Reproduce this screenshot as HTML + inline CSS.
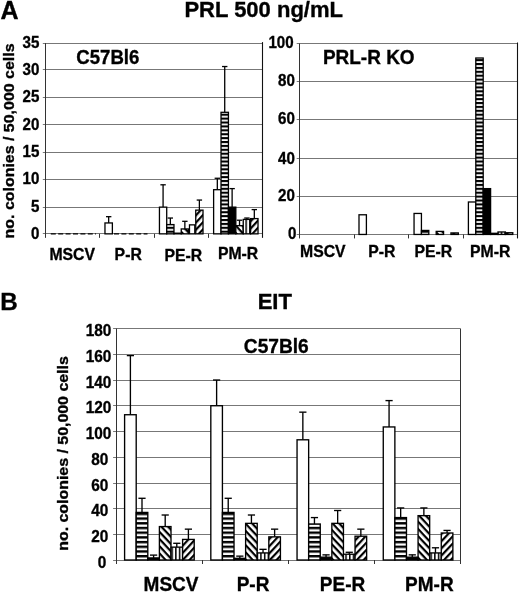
<!DOCTYPE html>
<html><head><meta charset="utf-8"><title>Figure</title>
<style>
html,body{margin:0;padding:0;background:#fff;}
body{width:520px;height:593px;overflow:hidden;}
svg{display:block;filter:grayscale(1);}
text{font-family:"Liberation Sans",sans-serif;font-weight:bold;fill:#000;stroke:#000;stroke-width:0.35px;}
</style></head><body>
<svg width="520" height="593" viewBox="0 0 520 593">
<defs>
<pattern id="hzA" patternUnits="userSpaceOnUse" width="4" height="3.9" y="0.6"><rect width="4" height="3.9" fill="#fff"/><rect width="4" height="2.1" fill="#000"/></pattern>
<pattern id="hzB" patternUnits="userSpaceOnUse" width="4" height="4.7" y="0.4"><rect width="4" height="4.7" fill="#fff"/><rect width="4" height="2.4" fill="#000"/></pattern>
<pattern id="vtA" patternUnits="userSpaceOnUse" width="3.7" height="4" x="1.2"><rect width="3.7" height="4" fill="#fff"/><rect width="1.5" height="4" fill="#000"/></pattern>
<pattern id="d1" patternUnits="userSpaceOnUse" width="5" height="4.9" patternTransform="rotate(47)"><rect width="5" height="4.9" fill="#fff"/><rect width="5" height="2.2" fill="#000"/></pattern>
<pattern id="d2" patternUnits="userSpaceOnUse" width="5" height="4.9" patternTransform="rotate(-47)"><rect width="5" height="4.9" fill="#fff"/><rect width="5" height="2.2" fill="#000"/></pattern>
</defs>
<rect width="520" height="593" fill="#fff"/>

<line x1="42.80" y1="233.50" x2="262.50" y2="233.50" stroke="#777" stroke-width="1"/>
<text font-size="17.0" text-anchor="end" transform="translate(39.40,238.65) scale(0.89,1)">0</text>
<line x1="42.80" y1="207.50" x2="262.50" y2="207.50" stroke="#777" stroke-width="1"/>
<text font-size="17.0" text-anchor="end" transform="translate(39.40,211.90) scale(0.89,1)">5</text>
<line x1="42.80" y1="179.50" x2="262.50" y2="179.50" stroke="#777" stroke-width="1"/>
<text font-size="17.0" text-anchor="end" transform="translate(39.40,184.30) scale(0.89,1)">10</text>
<line x1="42.80" y1="152.50" x2="262.50" y2="152.50" stroke="#777" stroke-width="1"/>
<text font-size="17.0" text-anchor="end" transform="translate(39.40,157.20) scale(0.89,1)">15</text>
<line x1="42.80" y1="124.50" x2="262.50" y2="124.50" stroke="#777" stroke-width="1"/>
<text font-size="17.0" text-anchor="end" transform="translate(39.40,129.50) scale(0.89,1)">20</text>
<line x1="42.80" y1="97.50" x2="262.50" y2="97.50" stroke="#777" stroke-width="1"/>
<text font-size="17.0" text-anchor="end" transform="translate(39.40,102.20) scale(0.89,1)">25</text>
<line x1="42.80" y1="69.50" x2="262.50" y2="69.50" stroke="#777" stroke-width="1"/>
<text font-size="17.0" text-anchor="end" transform="translate(39.40,74.60) scale(0.89,1)">30</text>
<line x1="42.80" y1="43.50" x2="262.50" y2="43.50" stroke="#777" stroke-width="1"/>
<text font-size="17.0" text-anchor="end" transform="translate(39.40,48.00) scale(0.89,1)">35</text>
<line x1="45.50" y1="43.10" x2="45.50" y2="237.85" stroke="#333" stroke-width="1"/>
<line x1="262.50" y1="42.10" x2="262.50" y2="237.85" stroke="#111" stroke-width="1.1"/>
<line x1="99.50" y1="233.85" x2="99.50" y2="237.85" stroke="#333" stroke-width="1"/>
<line x1="154.50" y1="233.85" x2="154.50" y2="237.85" stroke="#333" stroke-width="1"/>
<line x1="208.50" y1="233.85" x2="208.50" y2="237.85" stroke="#333" stroke-width="1"/>
<line x1="108.67" y1="216.68" x2="108.67" y2="222.95" stroke="#000" stroke-width="1.3"/>
<line x1="105.97" y1="216.68" x2="111.38" y2="216.68" stroke="#000" stroke-width="1.3"/>
<rect x="104.97" y="222.95" width="7.40" height="10.90" fill="#fff" stroke="#000" stroke-width="1.3"/>
<line x1="163.08" y1="184.80" x2="163.08" y2="207.14" stroke="#000" stroke-width="1.3"/>
<line x1="160.38" y1="184.80" x2="165.78" y2="184.80" stroke="#000" stroke-width="1.3"/>
<rect x="159.45" y="207.14" width="7.26" height="26.71" fill="#fff" stroke="#000" stroke-width="1.3"/>
<line x1="170.34" y1="218.04" x2="170.34" y2="224.58" stroke="#000" stroke-width="1.3"/>
<line x1="167.64" y1="218.04" x2="173.04" y2="218.04" stroke="#000" stroke-width="1.3"/>
<rect x="166.71" y="224.58" width="7.26" height="9.27" fill="url(#hzA)" stroke="#000" stroke-width="1.3"/>
<rect x="173.97" y="233.20" width="7.26" height="0.65" fill="#000" stroke="#000" stroke-width="1.3"/>
<line x1="184.86" y1="221.31" x2="184.86" y2="228.94" stroke="#000" stroke-width="1.3"/>
<line x1="182.16" y1="221.31" x2="187.56" y2="221.31" stroke="#000" stroke-width="1.3"/>
<rect x="181.23" y="228.94" width="7.26" height="4.91" fill="url(#d1)" stroke="#000" stroke-width="1.3"/>
<rect x="189.49" y="224.86" width="5.30" height="8.99" fill="#fff" stroke="#000" stroke-width="1.3"/>
<line x1="199.38" y1="200.06" x2="199.38" y2="210.14" stroke="#000" stroke-width="1.3"/>
<line x1="196.68" y1="200.06" x2="202.08" y2="200.06" stroke="#000" stroke-width="1.3"/>
<rect x="195.75" y="210.14" width="7.26" height="23.71" fill="url(#d2)" stroke="#000" stroke-width="1.3"/>
<line x1="217.32" y1="178.26" x2="217.32" y2="189.70" stroke="#000" stroke-width="1.3"/>
<line x1="214.62" y1="178.26" x2="220.02" y2="178.26" stroke="#000" stroke-width="1.3"/>
<rect x="213.62" y="189.70" width="7.40" height="44.15" fill="#fff" stroke="#000" stroke-width="1.3"/>
<line x1="224.72" y1="66.53" x2="224.72" y2="112.31" stroke="#000" stroke-width="1.3"/>
<line x1="222.03" y1="66.53" x2="227.42" y2="66.53" stroke="#000" stroke-width="1.3"/>
<rect x="221.03" y="112.31" width="7.40" height="121.54" fill="url(#hzA)" stroke="#000" stroke-width="1.3"/>
<line x1="232.12" y1="188.61" x2="232.12" y2="207.14" stroke="#000" stroke-width="1.3"/>
<line x1="229.43" y1="188.61" x2="234.82" y2="188.61" stroke="#000" stroke-width="1.3"/>
<rect x="228.43" y="207.14" width="7.40" height="26.71" fill="#000" stroke="#000" stroke-width="1.3"/>
<line x1="239.52" y1="220.22" x2="239.52" y2="225.67" stroke="#000" stroke-width="1.3"/>
<line x1="236.82" y1="220.22" x2="242.22" y2="220.22" stroke="#000" stroke-width="1.3"/>
<rect x="235.82" y="225.67" width="7.40" height="8.18" fill="url(#d1)" stroke="#000" stroke-width="1.3"/>
<line x1="246.92" y1="218.04" x2="246.92" y2="219.41" stroke="#000" stroke-width="1.3"/>
<line x1="244.22" y1="218.04" x2="249.62" y2="218.04" stroke="#000" stroke-width="1.3"/>
<rect x="243.22" y="219.41" width="7.40" height="14.44" fill="url(#vtA)" stroke="#000" stroke-width="1.3"/>
<line x1="254.32" y1="209.60" x2="254.32" y2="218.59" stroke="#000" stroke-width="1.3"/>
<line x1="251.62" y1="209.60" x2="257.02" y2="209.60" stroke="#000" stroke-width="1.3"/>
<rect x="250.62" y="218.59" width="7.40" height="15.26" fill="url(#d2)" stroke="#000" stroke-width="1.3"/>
<line x1="50.8" y1="233.9" x2="96" y2="233.9" stroke="#000" stroke-width="1.4" stroke-dasharray="5 2.4"/>
<line x1="114" y1="233.9" x2="147.5" y2="233.9" stroke="#000" stroke-width="1.4" stroke-dasharray="5 2.4"/>
<line x1="296.70" y1="234.50" x2="517.70" y2="234.50" stroke="#777" stroke-width="1"/>
<text font-size="17.0" text-anchor="end" transform="translate(296.50,239.35) scale(0.89,1)">0</text>
<line x1="296.70" y1="196.50" x2="517.70" y2="196.50" stroke="#777" stroke-width="1"/>
<text font-size="17.0" text-anchor="end" transform="translate(294.80,201.45) scale(0.89,1)">20</text>
<line x1="296.70" y1="158.50" x2="517.70" y2="158.50" stroke="#777" stroke-width="1"/>
<text font-size="17.0" text-anchor="end" transform="translate(294.80,163.65) scale(0.89,1)">40</text>
<line x1="296.70" y1="119.50" x2="517.70" y2="119.50" stroke="#777" stroke-width="1"/>
<text font-size="17.0" text-anchor="end" transform="translate(294.80,124.35) scale(0.89,1)">60</text>
<line x1="296.70" y1="81.50" x2="517.70" y2="81.50" stroke="#777" stroke-width="1"/>
<text font-size="17.0" text-anchor="end" transform="translate(294.80,86.25) scale(0.89,1)">80</text>
<line x1="296.70" y1="43.50" x2="517.70" y2="43.50" stroke="#777" stroke-width="1"/>
<text font-size="17.0" text-anchor="end" transform="translate(293.60,48.35) scale(0.89,1)">100</text>
<line x1="299.50" y1="43.50" x2="299.50" y2="238.45" stroke="#333" stroke-width="1"/>
<line x1="517.50" y1="42.50" x2="517.50" y2="238.45" stroke="#111" stroke-width="1.1"/>
<line x1="354.50" y1="234.45" x2="354.50" y2="238.45" stroke="#333" stroke-width="1"/>
<line x1="408.50" y1="234.45" x2="408.50" y2="238.45" stroke="#333" stroke-width="1"/>
<line x1="463.50" y1="234.45" x2="463.50" y2="238.45" stroke="#333" stroke-width="1"/>
<rect x="359.00" y="214.78" width="7.40" height="19.67" fill="#fff" stroke="#000" stroke-width="1.3"/>
<rect x="414.05" y="213.45" width="7.38" height="21.00" fill="#fff" stroke="#000" stroke-width="1.3"/>
<rect x="421.43" y="230.44" width="7.38" height="4.01" fill="url(#hzA)" stroke="#000" stroke-width="1.3"/>
<rect x="436.19" y="231.39" width="7.38" height="3.06" fill="url(#d1)" stroke="#000" stroke-width="1.3"/>
<rect x="450.95" y="232.92" width="7.38" height="1.53" fill="url(#d2)" stroke="#000" stroke-width="1.3"/>
<rect x="468.40" y="201.99" width="7.40" height="32.46" fill="#fff" stroke="#000" stroke-width="1.3"/>
<rect x="475.80" y="58.01" width="7.40" height="176.44" fill="url(#hzA)" stroke="#000" stroke-width="1.3"/>
<rect x="483.20" y="188.62" width="7.40" height="45.83" fill="#000" stroke="#000" stroke-width="1.3"/>
<rect x="490.60" y="233.30" width="7.40" height="1.15" fill="url(#d1)" stroke="#000" stroke-width="1.3"/>
<rect x="498.00" y="231.97" width="7.40" height="2.48" fill="url(#vtA)" stroke="#000" stroke-width="1.3"/>
<rect x="505.40" y="232.73" width="7.40" height="1.72" fill="url(#d2)" stroke="#000" stroke-width="1.3"/>
<line x1="113.10" y1="560.50" x2="460.40" y2="560.50" stroke="#777" stroke-width="1"/>
<text font-size="17.3" text-anchor="end" transform="translate(106.20,567.90) scale(0.89,1)">0</text>
<line x1="113.10" y1="534.50" x2="460.40" y2="534.50" stroke="#777" stroke-width="1"/>
<text font-size="17.3" text-anchor="end" transform="translate(108.40,541.80) scale(0.89,1)">20</text>
<line x1="113.10" y1="508.50" x2="460.40" y2="508.50" stroke="#777" stroke-width="1"/>
<text font-size="17.3" text-anchor="end" transform="translate(108.40,515.90) scale(0.89,1)">40</text>
<line x1="113.10" y1="483.50" x2="460.40" y2="483.50" stroke="#777" stroke-width="1"/>
<text font-size="17.3" text-anchor="end" transform="translate(108.40,490.50) scale(0.89,1)">60</text>
<line x1="113.10" y1="457.50" x2="460.40" y2="457.50" stroke="#777" stroke-width="1"/>
<text font-size="17.3" text-anchor="end" transform="translate(108.40,464.70) scale(0.89,1)">80</text>
<line x1="113.10" y1="431.50" x2="460.40" y2="431.50" stroke="#777" stroke-width="1"/>
<text font-size="17.3" text-anchor="end" transform="translate(111.30,438.90) scale(0.89,1)">100</text>
<line x1="113.10" y1="405.50" x2="460.40" y2="405.50" stroke="#777" stroke-width="1"/>
<text font-size="17.3" text-anchor="end" transform="translate(111.30,413.30) scale(0.89,1)">120</text>
<line x1="113.10" y1="380.50" x2="460.40" y2="380.50" stroke="#777" stroke-width="1"/>
<text font-size="17.3" text-anchor="end" transform="translate(111.30,387.80) scale(0.89,1)">140</text>
<line x1="113.10" y1="354.50" x2="460.40" y2="354.50" stroke="#777" stroke-width="1"/>
<text font-size="17.3" text-anchor="end" transform="translate(111.30,361.80) scale(0.89,1)">160</text>
<line x1="113.10" y1="328.50" x2="460.40" y2="328.50" stroke="#777" stroke-width="1"/>
<text font-size="17.3" text-anchor="end" transform="translate(111.30,336.20) scale(0.89,1)">180</text>
<line x1="116.50" y1="328.60" x2="116.50" y2="564.00" stroke="#333" stroke-width="1"/>
<line x1="460.50" y1="328.60" x2="460.50" y2="564.00" stroke="#333" stroke-width="1"/>
<line x1="202.50" y1="560.00" x2="202.50" y2="564.00" stroke="#333" stroke-width="1"/>
<line x1="288.50" y1="560.00" x2="288.50" y2="564.00" stroke="#333" stroke-width="1"/>
<line x1="374.50" y1="560.00" x2="374.50" y2="564.00" stroke="#333" stroke-width="1"/>
<line x1="130.40" y1="355.60" x2="130.40" y2="414.73" stroke="#000" stroke-width="1.35"/>
<line x1="126.80" y1="355.60" x2="134.00" y2="355.60" stroke="#000" stroke-width="1.35"/>
<rect x="124.60" y="414.73" width="11.60" height="145.27" fill="#fff" stroke="#000" stroke-width="1.35"/>
<line x1="142.00" y1="498.29" x2="142.00" y2="512.43" stroke="#000" stroke-width="1.35"/>
<line x1="138.40" y1="498.29" x2="145.60" y2="498.29" stroke="#000" stroke-width="1.35"/>
<rect x="136.20" y="512.43" width="11.60" height="47.57" fill="url(#hzB)" stroke="#000" stroke-width="1.35"/>
<line x1="153.60" y1="555.11" x2="153.60" y2="557.94" stroke="#000" stroke-width="1.35"/>
<line x1="150.00" y1="555.11" x2="157.20" y2="555.11" stroke="#000" stroke-width="1.35"/>
<rect x="147.80" y="557.94" width="11.60" height="2.06" fill="#000" stroke="#000" stroke-width="1.35"/>
<line x1="165.20" y1="515.01" x2="165.20" y2="526.58" stroke="#000" stroke-width="1.35"/>
<line x1="161.60" y1="515.01" x2="168.80" y2="515.01" stroke="#000" stroke-width="1.35"/>
<rect x="159.40" y="526.58" width="11.60" height="33.42" fill="url(#d1)" stroke="#000" stroke-width="1.35"/>
<line x1="176.80" y1="543.29" x2="176.80" y2="547.14" stroke="#000" stroke-width="1.35"/>
<line x1="173.20" y1="543.29" x2="180.40" y2="543.29" stroke="#000" stroke-width="1.35"/>
<rect x="171.00" y="547.14" width="11.60" height="12.86" fill="url(#vtA)" stroke="#000" stroke-width="1.35"/>
<line x1="188.40" y1="529.15" x2="188.40" y2="539.43" stroke="#000" stroke-width="1.35"/>
<line x1="184.80" y1="529.15" x2="192.00" y2="529.15" stroke="#000" stroke-width="1.35"/>
<rect x="182.60" y="539.43" width="11.60" height="20.57" fill="url(#d2)" stroke="#000" stroke-width="1.35"/>
<line x1="216.62" y1="380.02" x2="216.62" y2="405.73" stroke="#000" stroke-width="1.35"/>
<line x1="213.03" y1="380.02" x2="220.22" y2="380.02" stroke="#000" stroke-width="1.35"/>
<rect x="210.82" y="405.73" width="11.60" height="154.27" fill="#fff" stroke="#000" stroke-width="1.35"/>
<line x1="228.22" y1="498.29" x2="228.22" y2="512.43" stroke="#000" stroke-width="1.35"/>
<line x1="224.62" y1="498.29" x2="231.82" y2="498.29" stroke="#000" stroke-width="1.35"/>
<rect x="222.42" y="512.43" width="11.60" height="47.57" fill="url(#hzB)" stroke="#000" stroke-width="1.35"/>
<line x1="239.82" y1="556.14" x2="239.82" y2="558.33" stroke="#000" stroke-width="1.35"/>
<line x1="236.22" y1="556.14" x2="243.42" y2="556.14" stroke="#000" stroke-width="1.35"/>
<rect x="234.02" y="558.33" width="11.60" height="1.67" fill="#000" stroke="#000" stroke-width="1.35"/>
<line x1="251.43" y1="515.01" x2="251.43" y2="523.36" stroke="#000" stroke-width="1.35"/>
<line x1="247.83" y1="515.01" x2="255.03" y2="515.01" stroke="#000" stroke-width="1.35"/>
<rect x="245.62" y="523.36" width="11.60" height="36.64" fill="url(#d1)" stroke="#000" stroke-width="1.35"/>
<line x1="263.02" y1="549.33" x2="263.02" y2="552.93" stroke="#000" stroke-width="1.35"/>
<line x1="259.42" y1="549.33" x2="266.62" y2="549.33" stroke="#000" stroke-width="1.35"/>
<rect x="257.22" y="552.93" width="11.60" height="7.07" fill="url(#vtA)" stroke="#000" stroke-width="1.35"/>
<line x1="274.62" y1="529.15" x2="274.62" y2="536.86" stroke="#000" stroke-width="1.35"/>
<line x1="271.02" y1="529.15" x2="278.23" y2="529.15" stroke="#000" stroke-width="1.35"/>
<rect x="268.82" y="536.86" width="11.60" height="23.14" fill="url(#d2)" stroke="#000" stroke-width="1.35"/>
<line x1="302.85" y1="412.16" x2="302.85" y2="439.80" stroke="#000" stroke-width="1.35"/>
<line x1="299.25" y1="412.16" x2="306.45" y2="412.16" stroke="#000" stroke-width="1.35"/>
<rect x="297.05" y="439.80" width="11.60" height="120.20" fill="#fff" stroke="#000" stroke-width="1.35"/>
<line x1="314.45" y1="517.58" x2="314.45" y2="524.00" stroke="#000" stroke-width="1.35"/>
<line x1="310.85" y1="517.58" x2="318.05" y2="517.58" stroke="#000" stroke-width="1.35"/>
<rect x="308.65" y="524.00" width="11.60" height="36.00" fill="url(#hzB)" stroke="#000" stroke-width="1.35"/>
<line x1="326.05" y1="554.86" x2="326.05" y2="557.17" stroke="#000" stroke-width="1.35"/>
<line x1="322.45" y1="554.86" x2="329.65" y2="554.86" stroke="#000" stroke-width="1.35"/>
<rect x="320.25" y="557.17" width="11.60" height="2.83" fill="#000" stroke="#000" stroke-width="1.35"/>
<line x1="337.65" y1="510.51" x2="337.65" y2="523.36" stroke="#000" stroke-width="1.35"/>
<line x1="334.05" y1="510.51" x2="341.25" y2="510.51" stroke="#000" stroke-width="1.35"/>
<rect x="331.85" y="523.36" width="11.60" height="36.64" fill="url(#d1)" stroke="#000" stroke-width="1.35"/>
<line x1="349.25" y1="552.29" x2="349.25" y2="554.22" stroke="#000" stroke-width="1.35"/>
<line x1="345.65" y1="552.29" x2="352.85" y2="552.29" stroke="#000" stroke-width="1.35"/>
<rect x="343.45" y="554.22" width="11.60" height="5.78" fill="url(#vtA)" stroke="#000" stroke-width="1.35"/>
<line x1="360.85" y1="529.15" x2="360.85" y2="536.22" stroke="#000" stroke-width="1.35"/>
<line x1="357.25" y1="529.15" x2="364.45" y2="529.15" stroke="#000" stroke-width="1.35"/>
<rect x="355.05" y="536.22" width="11.60" height="23.78" fill="url(#d2)" stroke="#000" stroke-width="1.35"/>
<line x1="389.07" y1="400.59" x2="389.07" y2="426.95" stroke="#000" stroke-width="1.35"/>
<line x1="385.47" y1="400.59" x2="392.67" y2="400.59" stroke="#000" stroke-width="1.35"/>
<rect x="383.27" y="426.95" width="11.60" height="133.05" fill="#fff" stroke="#000" stroke-width="1.35"/>
<line x1="400.67" y1="507.94" x2="400.67" y2="517.58" stroke="#000" stroke-width="1.35"/>
<line x1="397.07" y1="507.94" x2="404.27" y2="507.94" stroke="#000" stroke-width="1.35"/>
<rect x="394.87" y="517.58" width="11.60" height="42.42" fill="url(#hzB)" stroke="#000" stroke-width="1.35"/>
<line x1="412.27" y1="554.86" x2="412.27" y2="557.17" stroke="#000" stroke-width="1.35"/>
<line x1="408.67" y1="554.86" x2="415.87" y2="554.86" stroke="#000" stroke-width="1.35"/>
<rect x="406.47" y="557.17" width="11.60" height="2.83" fill="#000" stroke="#000" stroke-width="1.35"/>
<line x1="423.87" y1="507.94" x2="423.87" y2="515.65" stroke="#000" stroke-width="1.35"/>
<line x1="420.27" y1="507.94" x2="427.47" y2="507.94" stroke="#000" stroke-width="1.35"/>
<rect x="418.07" y="515.65" width="11.60" height="44.35" fill="url(#d1)" stroke="#000" stroke-width="1.35"/>
<line x1="435.47" y1="547.79" x2="435.47" y2="552.93" stroke="#000" stroke-width="1.35"/>
<line x1="431.87" y1="547.79" x2="439.07" y2="547.79" stroke="#000" stroke-width="1.35"/>
<rect x="429.67" y="552.93" width="11.60" height="7.07" fill="url(#vtA)" stroke="#000" stroke-width="1.35"/>
<line x1="447.07" y1="530.43" x2="447.07" y2="533.00" stroke="#000" stroke-width="1.35"/>
<line x1="443.47" y1="530.43" x2="450.67" y2="530.43" stroke="#000" stroke-width="1.35"/>
<rect x="441.27" y="533.00" width="11.60" height="27.00" fill="url(#d2)" stroke="#000" stroke-width="1.35"/>
<text x="0.60" y="19.30" font-size="25" text-anchor="start" >A</text>
<text x="0.20" y="310.40" font-size="24.2" text-anchor="start" >B</text>
<text x="263.70" y="17.00" font-size="22" text-anchor="middle" >PRL 500 ng/mL</text>
<text x="274.80" y="309.00" font-size="22" text-anchor="middle" >EIT</text>
<text font-size="19.9" text-anchor="start" transform="translate(76.30,63.80) scale(0.935,1)">C57Bl6</text>
<text font-size="20.3" text-anchor="start" transform="translate(322.90,63.90) scale(0.935,1)">PRL-R KO</text>
<text font-size="20.5" text-anchor="start" transform="translate(243.80,352.80) scale(0.935,1)">C57Bl6</text>
<text font-size="17.3" text-anchor="middle" transform="translate(72.20,260.10) scale(0.913,1)">MSCV</text>
<text font-size="17.3" text-anchor="middle" transform="translate(128.20,260.10) scale(0.913,1)">P-R</text>
<text font-size="17.3" text-anchor="middle" transform="translate(183.30,260.60) scale(0.913,1)">PE-R</text>
<text font-size="17.3" text-anchor="middle" transform="translate(238.10,259.20) scale(0.913,1)">PM-R</text>
<text font-size="17.3" text-anchor="middle" transform="translate(322.80,257.40) scale(0.913,1)">MSCV</text>
<text font-size="17.3" text-anchor="middle" transform="translate(381.80,257.40) scale(0.913,1)">P-R</text>
<text font-size="17.3" text-anchor="middle" transform="translate(433.30,257.40) scale(0.913,1)">PE-R</text>
<text font-size="17.3" text-anchor="middle" transform="translate(490.20,257.40) scale(0.913,1)">PM-R</text>
<text font-size="20.9" text-anchor="middle" transform="translate(171.00,590.90) scale(0.91,1)">MSCV</text>
<text font-size="20.9" text-anchor="middle" transform="translate(253.00,590.90) scale(0.91,1)">P-R</text>
<text font-size="20.9" text-anchor="middle" transform="translate(342.50,590.90) scale(0.91,1)">PE-R</text>
<text font-size="20.9" text-anchor="middle" transform="translate(429.40,590.90) scale(0.91,1)">PM-R</text>
<text font-size="14.7" text-anchor="middle" transform="translate(13.6,140.95) rotate(-90) scale(1.085,1)">no. colonies / 50,000 cells</text>
<text font-size="14.6" text-anchor="middle" transform="translate(68.2,453.5) rotate(-90) scale(1.09,1)">no. colonies / 50,000 cells</text>
</svg></body></html>
